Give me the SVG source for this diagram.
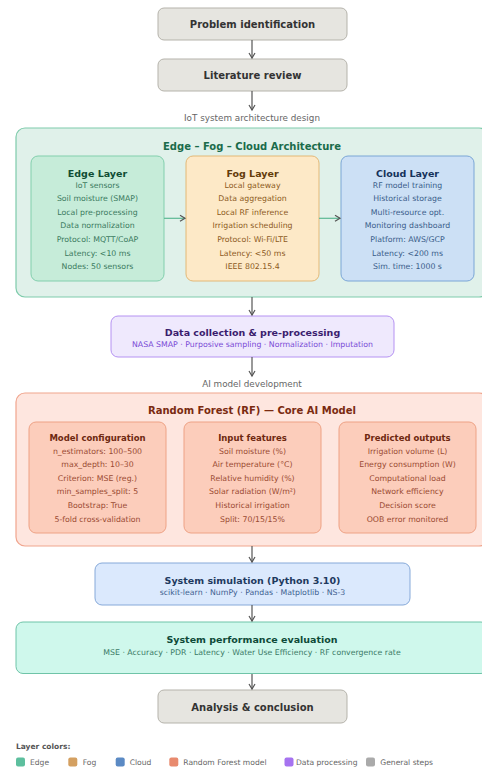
<svg xmlns="http://www.w3.org/2000/svg" width="482" height="769" viewBox="0 0 482 769">
<defs>
<marker id="arr" markerWidth="8" markerHeight="8" refX="6" refY="4" orient="auto" markerUnits="userSpaceOnUse">
<path d="M1,1 L6,4 L1,7" fill="none" stroke="#555" stroke-width="1.2"/>
</marker>
<style>
text{font-family:"DejaVu Sans","Liberation Sans",sans-serif;text-anchor:middle;dominant-baseline:central}
.b{font-weight:bold}
.gen rect{fill:#e6e5e0;stroke:#b5b3ab;stroke-width:1}
.gen text{font-size:10px;font-weight:bold;fill:#333}
.lbl{font-size:8.8px;fill:#666}
.t{font-size:10px;font-weight:bold}
.h{font-size:9.5px;font-weight:bold}
.h2{font-size:8.5px;font-weight:bold}
.s{font-size:7.8px}
.ss{font-size:7.8px}
.conn line{stroke:#555;stroke-width:1.2;fill:none}
.conn line.g{stroke:#5cb893}
.leg text{text-anchor:start;font-size:7.6px;fill:#666}
</style>
</defs>

<g id="problem" class="gen"><rect x="158" y="8" width="189" height="32" rx="6"/><text x="252.5" y="24">Problem identification</text></g>
<g id="literature" class="gen"><rect x="158" y="59" width="189" height="32" rx="6"/><text x="252.5" y="75">Literature review</text></g>
<text class="lbl" x="252" y="118">IoT system architecture design</text>

<g id="architecture">
<rect x="16" y="128" width="472" height="169" rx="9" fill="#e0f1ea" stroke="#7ecbab" stroke-width="1.2"/>
<text class="t" x="252" y="146" fill="#1a6b4a">Edge – Fog – Cloud Architecture</text>
</g>

<g id="edge">
<rect x="31" y="156" width="133" height="125" rx="7" fill="#c6ecd9" stroke="#82cfad"/>
<text class="h" x="97.5" y="173.3" fill="#0f4d33">Edge Layer</text>
<g class="s" fill="#3b7a5e">
<text x="97.5" y="185">IoT sensors</text>
<text x="97.5" y="198.6">Soil moisture (SMAP)</text>
<text x="97.5" y="212.2">Local pre-processing</text>
<text x="97.5" y="225.8">Data normalization</text>
<text x="97.5" y="239.4">Protocol: MQTT/CoAP</text>
<text x="97.5" y="253">Latency: &lt;10 ms</text>
<text x="97.5" y="266.6">Nodes: 50 sensors</text>
</g>
</g>

<g id="fog">
<rect x="186" y="156" width="133" height="125" rx="7" fill="#fde9c7" stroke="#e3b877"/>
<text class="h" x="252.5" y="173.3" fill="#633b0a">Fog Layer</text>
<g class="s" fill="#8c5a22">
<text x="252.5" y="185">Local gateway</text>
<text x="252.5" y="198.6">Data aggregation</text>
<text x="252.5" y="212.2">Local RF inference</text>
<text x="252.5" y="225.8">Irrigation scheduling</text>
<text x="252.5" y="239.4">Protocol: Wi-Fi/LTE</text>
<text x="252.5" y="253">Latency: &lt;50 ms</text>
<text x="252.5" y="266.6">IEEE 802.15.4</text>
</g>
</g>

<g id="cloud">
<rect x="341" y="156" width="133" height="125" rx="7" fill="#cce0f5" stroke="#7aa6d6"/>
<text class="h" x="407.5" y="173.3" fill="#15325a">Cloud Layer</text>
<g class="s" fill="#3a5d8a">
<text x="407.5" y="185">RF model training</text>
<text x="407.5" y="198.6">Historical storage</text>
<text x="407.5" y="212.2">Multi-resource opt.</text>
<text x="407.5" y="225.8">Monitoring dashboard</text>
<text x="407.5" y="239.4">Platform: AWS/GCP</text>
<text x="407.5" y="253">Latency: &lt;200 ms</text>
<text x="407.5" y="266.6">Sim. time: 1000 s</text>
</g>
</g>

<g id="datacollection">
<rect x="111" y="316" width="283" height="41" rx="7" fill="#efe9fd" stroke="#b592f2"/>
<text class="h" x="252.5" y="332.5" fill="#3b1d6e">Data collection &amp; pre-processing</text>
<text class="ss" x="252.5" y="344.5" fill="#7a4ad6">NASA SMAP · Purposive sampling · Normalization · Imputation</text>
</g>
<text class="lbl" x="252" y="384">AI model development</text>

<g id="randomforest">
<rect x="16" y="393" width="472" height="153" rx="9" fill="#fee6df" stroke="#f0a58e" stroke-width="1.2"/>
<text class="t" x="252" y="410" fill="#7a2a10">Random Forest (RF) — Core AI Model</text>
</g>

<g id="modelconfig">
<rect x="29" y="422" width="137" height="111" rx="7" fill="#fccdbb" stroke="#eea285"/>
<text class="h2" x="97.5" y="438.3" fill="#6e2810">Model configuration</text>
<g class="s" fill="#9a4a32">
<text x="97.5" y="451">n_estimators: 100–500</text>
<text x="97.5" y="464.6">max_depth: 10–30</text>
<text x="97.5" y="478.2">Criterion: MSE (reg.)</text>
<text x="97.5" y="491.8">min_samples_split: 5</text>
<text x="97.5" y="505.4">Bootstrap: True</text>
<text x="97.5" y="519">5-fold cross-validation</text>
</g>
</g>

<g id="inputfeatures">
<rect x="184" y="422" width="137" height="111" rx="7" fill="#fccdbb" stroke="#eea285"/>
<text class="h2" x="252.5" y="438.3" fill="#6e2810">Input features</text>
<g class="s" fill="#9a4a32">
<text x="252.5" y="451">Soil moisture (%)</text>
<text x="252.5" y="464.6">Air temperature (°C)</text>
<text x="252.5" y="478.2">Relative humidity (%)</text>
<text x="252.5" y="491.8">Solar radiation (W/m²)</text>
<text x="252.5" y="505.4">Historical irrigation</text>
<text x="252.5" y="519">Split: 70/15/15%</text>
</g>
</g>

<g id="outputs">
<rect x="339" y="422" width="137" height="111" rx="7" fill="#fccdbb" stroke="#eea285"/>
<text class="h2" x="407.5" y="438.3" fill="#6e2810">Predicted outputs</text>
<g class="s" fill="#9a4a32">
<text x="407.5" y="451">Irrigation volume (L)</text>
<text x="407.5" y="464.6">Energy consumption (W)</text>
<text x="407.5" y="478.2">Computational load</text>
<text x="407.5" y="491.8">Network efficiency</text>
<text x="407.5" y="505.4">Decision score</text>
<text x="407.5" y="519">OOB error monitored</text>
</g>
</g>

<g id="simulation">
<rect x="95" y="563" width="315" height="42" rx="7" fill="#dbe9fd" stroke="#86a9d9"/>
<text class="h" x="252.5" y="580" fill="#1e3a5f">System simulation (Python 3.10)</text>
<text class="ss" x="252.5" y="592" fill="#3e5f90">scikit-learn · NumPy · Pandas · Matplotlib · NS-3</text>
</g>

<g id="evaluation">
<rect x="16" y="622" width="472" height="51.5" rx="7" fill="#cff8ec" stroke="#6fc4a8"/>
<text class="h" x="252" y="639.3" fill="#0e4a38">System performance evaluation</text>
<text class="ss" x="252" y="652.7" fill="#3b7a66">MSE · Accuracy · PDR · Latency · Water Use Efficiency · RF convergence rate</text>
</g>

<g id="analysis" class="gen"><rect x="158" y="690" width="189" height="33" rx="6"/><text x="252.5" y="707">Analysis &amp; conclusion</text></g>

<g id="connectors" class="conn">
<line x1="252" y1="40" x2="252" y2="58" marker-end="url(#arr)"/>
<line x1="252" y1="91" x2="252" y2="110" marker-end="url(#arr)"/>
<line class="g" x1="164" y1="218.3" x2="185" y2="218.3" marker-end="url(#arr)"/>
<line class="g" x1="319" y1="218.3" x2="340" y2="218.3" marker-end="url(#arr)"/>
<line x1="252" y1="297" x2="252" y2="315" marker-end="url(#arr)"/>
<line x1="252" y1="357" x2="252" y2="376" marker-end="url(#arr)"/>
<line x1="252" y1="546" x2="252" y2="562" marker-end="url(#arr)"/>
<line x1="252" y1="605" x2="252" y2="621" marker-end="url(#arr)"/>
<line x1="252" y1="674" x2="252" y2="689" marker-end="url(#arr)"/>
</g>

<g id="legend" class="leg">
<text x="16" y="746.7" style="font-weight:bold;fill:#555;font-size:7.5px">Layer colors:</text>
<rect x="16" y="757.5" width="9" height="9" rx="2" fill="#5dbf9e"/><text x="30" y="762">Edge</text>
<rect x="68.3" y="757.5" width="9" height="9" rx="2" fill="#d4a061"/><text x="82.7" y="762">Fog</text>
<rect x="115.7" y="757.5" width="9" height="9" rx="2" fill="#5b8ac4"/><text x="129.7" y="762">Cloud</text>
<rect x="169.3" y="757.5" width="9" height="9" rx="2" fill="#e88a6e"/><text x="183.3" y="762">Random Forest model</text>
<rect x="284.5" y="757.5" width="9" height="9" rx="2" fill="#a673f0"/><text x="296" y="762">Data processing</text>
<rect x="366" y="757.5" width="9" height="9" rx="2" fill="#aaaaaa"/><text x="380.3" y="762">General steps</text>
</g>
</svg>
